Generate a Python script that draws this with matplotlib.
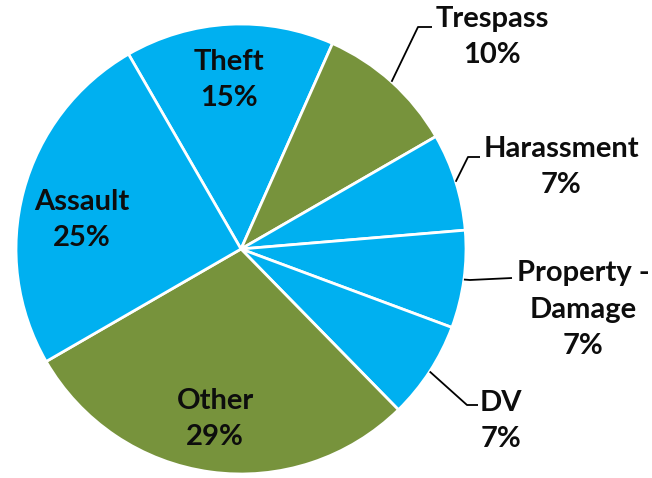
import matplotlib
matplotlib.use("Agg")
import matplotlib.pyplot as plt
import numpy as np

categories = ["Theft", "Trespass", "Harassment", "Property -\nDamage", "DV", "Other", "Assault"]
values = [15, 10, 7, 7, 7, 29, 25]
pct_labels = ["15%", "10%", "7%", "7%", "7%", "29%", "25%"]

BLUE = "#00B0F0"
GREEN = "#77933C"
colors = [BLUE, GREEN, BLUE, BLUE, BLUE, GREEN, BLUE]

W, H = 652, 478
fig = plt.figure(figsize=(W / 100, H / 100), dpi=100)
ax = fig.add_axes([0, 0, 1, 1])

cx, cy, R = 241, H - 249, 225
start = 120
wedges, _ = ax.pie(values, colors=colors, startangle=start, counterclock=False,
                   center=(cx, cy), radius=R,
                   wedgeprops=dict(edgecolor="white", linewidth=2))
ax.set_xlim(0, W)
ax.set_ylim(0, H)
ax.set_aspect("equal")
ax.axis("off")

font = dict(family=["Lato", "DejaVu Sans"], fontweight="bold", fontsize=21,
            color="#0d0d0d", ha="center", va="center", linespacing=1.5)

# label centers (pixel layout, y from top)
label_pos = [(229, 80), (492, 37), (561, 167), (583, 310), (501, 421), (215, 419), (82, 220)]
# leader elbows (pixel layout): (elbow, end) or None
leaders = [None, ((418, 27), (432, 27)), ((468, 157), (480, 157)),
           ((470, 280), (512, 278)), ((467, 405), (478, 405)), None, None]

for w, name, pct, pos, ld in zip(wedges, categories, pct_labels, label_pos, leaders):
    ax.text(pos[0], H - pos[1], f"{name}\n{pct}", **font)
    if ld is not None:
        mid = np.deg2rad((w.theta1 + w.theta2) / 2)
        sx, sy = cx + R * np.cos(mid), cy + R * np.sin(mid)
        (ex, ey), (fx, fy) = ld
        ax.plot([sx, ex, fx], [sy, H - ey, H - fy], color="black", lw=1.3,
                solid_capstyle="butt")

fig.savefig("out.png", dpi=100, facecolor="white")
